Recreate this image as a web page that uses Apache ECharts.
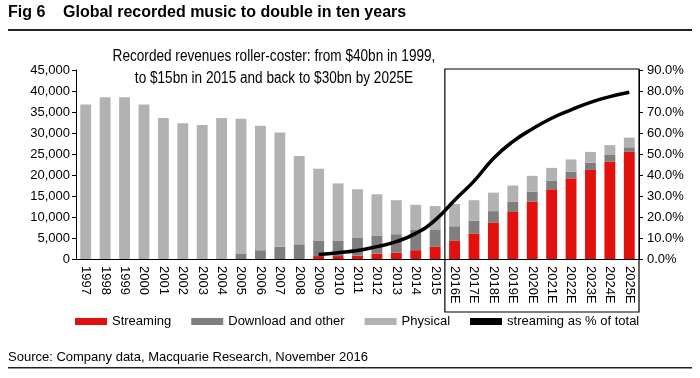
<!DOCTYPE html>
<html><head><meta charset="utf-8">
<script src="https://cdn.jsdelivr.net/npm/echarts@6/dist/echarts.min.js"></script>
<style>html,body{margin:0;padding:0;background:#fff}#c{width:700px;height:378px}</style>
</head><body><div id="c"></div>
<script>
var categories = ['1997','1998','1999','2000','2001','2002','2003','2004','2005','2006','2007','2008','2009','2010','2011','2012','2013','2014','2015','2016E','2017E','2018E','2019E','2020E','2021E','2022E','2023E','2024E','2025E'];
var streaming = [0,0,0,0,0,0,0,0,0,0,0,0,0.7,0.7,0.8,1.3,1.5,2.1,2.9,4.3,6.1,8.7,11.2,13.7,16.6,19.2,21.2,23.2,25.5];
var download = [0,0,0,0,0,0,0,0,1.2,2.1,2.9,3.5,3.6,3.6,4.2,4.2,4.4,4.8,4.0,3.5,3.0,2.7,2.4,2.3,2.0,1.6,1.7,1.7,1.1];
var physical = [36.8,38.5,38.5,36.8,33.6,32.3,31.9,33.6,32.2,29.6,27.2,21.0,17.2,13.7,11.6,9.9,8.1,6.0,5.7,5.3,4.9,4.4,3.9,3.8,3.1,2.9,2.6,2.2,2.3];
var streamingPct = [null,null,null,null,null,null,null,null,null,null,null,null,2.2,3.0,4.0,5.9,8.3,12.2,18.5,28.0,37.1,47.9,55.9,61.9,67.0,71.0,74.6,77.3,79.4];
var leftTicks = [0,5000,10000,15000,20000,25000,30000,35000,40000,45000];
var rightTicks = [0,10,20,30,40,50,60,70,80,90];

var FONT = '"Liberation Sans", Arial, sans-serif';
var chart = echarts.init(document.getElementById('c'));
function k(a){return a.map(function(v){return Math.round(v*1000);});}
var option = {
  animation:false,
  textStyle:{fontFamily:FONT,color:'#000'},
  grid:{left:76,right:61,top:70,bottom:119},
  legend:{
    bottom:45,left:70,itemWidth:32,itemHeight:7,itemGap:20,
    textStyle:{fontFamily:FONT,fontSize:13,color:'#000'},
    data:[{name:'Streaming',icon:'rect'},{name:'Download and other',icon:'rect'},{name:'Physical',icon:'rect'},{name:'streaming as % of total',icon:'rect',itemStyle:{color:'#000'}}]
  },
  xAxis:{type:'category',data:categories,
    axisLine:{lineStyle:{color:'#000',width:1}},
    axisTick:{alignWithLabel:false,length:5,lineStyle:{color:'#000'}},
    axisLabel:{rotate:-90,interval:0,fontSize:13,color:'#000',fontFamily:FONT,margin:7}
  },
  yAxis:[
    {type:'value',min:0,max:45000,interval:5000,
     axisLine:{show:true,lineStyle:{color:'#000'}},axisTick:{show:true,length:4,lineStyle:{color:'#000'}},
     splitLine:{show:false},
     axisLabel:{fontSize:13,color:'#000',fontFamily:FONT,margin:6,formatter:function(v){return v.toLocaleString('en-US');}}},
    {type:'value',min:0,max:90,interval:10,position:'right',
     axisLine:{show:true,lineStyle:{color:'#000'}},axisTick:{show:true,length:4,lineStyle:{color:'#000'}},
     splitLine:{show:false},
     axisLabel:{fontSize:13,color:'#000',fontFamily:FONT,margin:8,formatter:function(v){return v.toFixed(1)+'%';}}}
  ],
  series:[
    {name:'Streaming',type:'bar',stack:'t',barWidth:'56%',data:k(streaming),itemStyle:{color:'#E3110E'}},
    {name:'Download and other',type:'bar',stack:'t',data:k(download),itemStyle:{color:'#7F7F7F'}},
    {name:'Physical',type:'bar',stack:'t',data:k(physical),itemStyle:{color:'#B2B2B2'}},
    {name:'streaming as % of total',type:'line',yAxisIndex:1,data:streamingPct,smooth:true,symbol:'none',
     lineStyle:{color:'#000',width:3.5},itemStyle:{color:'#000'}}
  ],
  graphic:[
    {type:'text',left:8,top:5,style:{text:'Fig 6',font:'bold 16px '+FONT,fill:'#000'}},
    {type:'text',left:63,top:5,style:{text:'Global recorded music to double in ten years',font:'bold 16px '+FONT,fill:'#000'}},
    {type:'rect',shape:{x:8,y:29,width:684,height:2},style:{fill:'#222'}},
    {type:'text',left:8,top:351,style:{text:'Source: Company data, Macquarie Research, November 2016',font:'13px '+FONT,fill:'#000'}},
    {type:'rect',shape:{x:8,y:367,width:684,height:1.5},style:{fill:'#222'}},
    {type:'text',x:274,y:46,scaleX:0.85,style:{text:'Recorded revenues roller-coster: from $40bn in 1999,\nto $15bn in 2015 and back to $30bn by 2025E',font:'16px '+FONT,fill:'#000',align:'center',lineHeight:22}}
  ]
};
chart.setOption(option);
var x0 = chart.convertToPixel({xAxisIndex:0},'2016E');
var x1 = chart.convertToPixel({xAxisIndex:0},'2025E');
var band = (x1-x0)/9;
var yTop = chart.convertToPixel({yAxisIndex:0},45000);
chart.setOption({graphic:option.graphic.concat([
  {type:'rect',shape:{x:x0-band/2,y:yTop-1,width:(x1+band/2)-(x0-band/2),height:312-yTop+1},style:{fill:'none',stroke:'#000',lineWidth:1.2},z:100}
])});
</script></body></html>
